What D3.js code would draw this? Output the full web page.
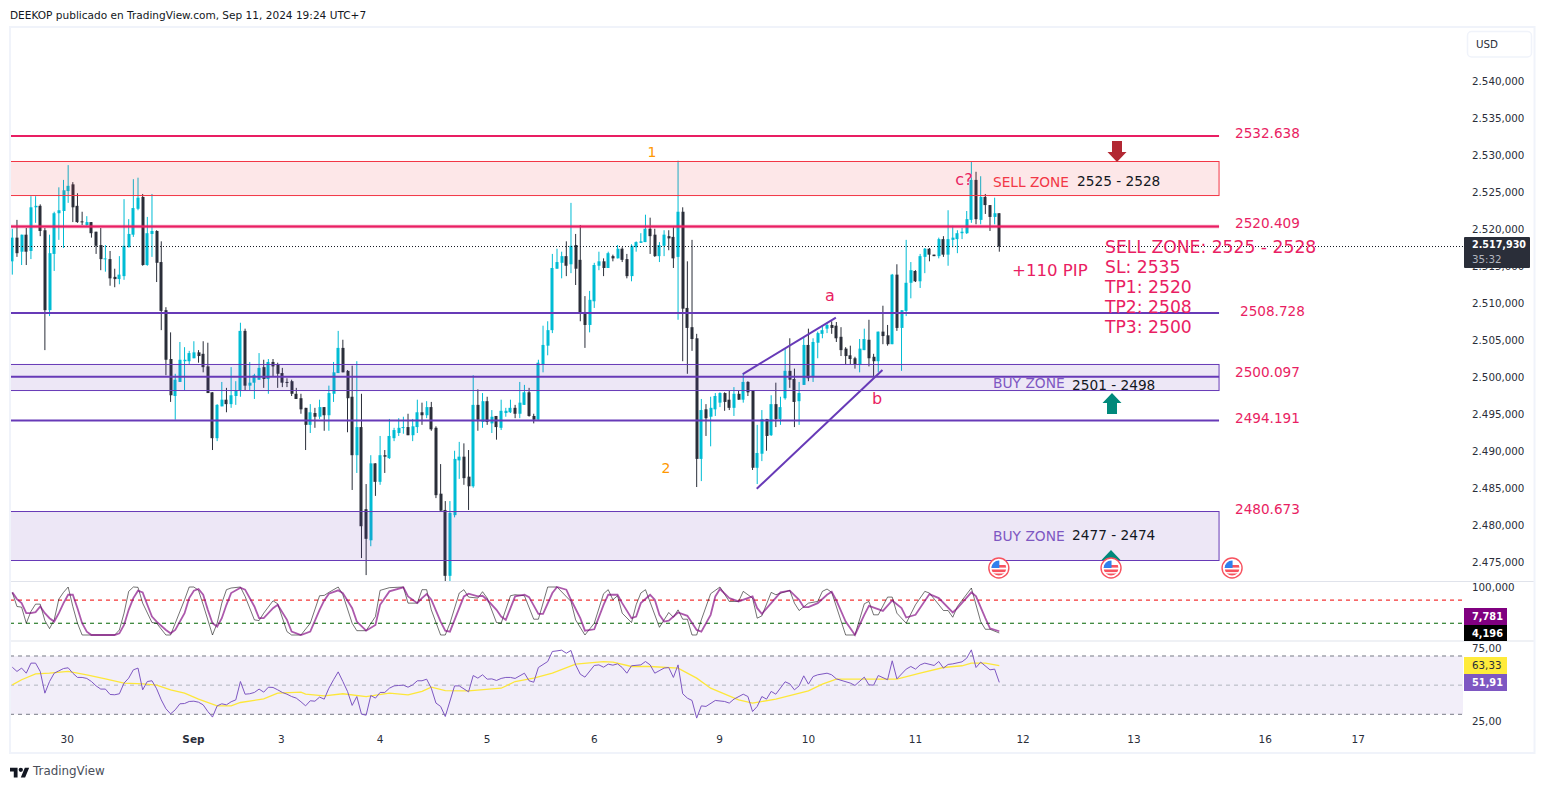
<!DOCTYPE html>
<html><head><meta charset="utf-8">
<script src="https://cdn.jsdelivr.net/npm/d3@7/dist/d3.min.js"></script>
<style>html,body{margin:0;padding:0;background:#fff}svg{display:block;font-family:"DejaVu Sans",sans-serif}</style>
</head><body><svg id="c" width="1545" height="789"></svg>
<script>
const opens=[2515.7,2518.9,2517.0,2519.3,2517.1,2523.0,2523.2,2519.9,2509.1,2516.7,
2522.2,2522.5,2525.2,2526.1,2523.2,2521.1,2520.6,2521.0,2519.7,2517.9,
2516.0,2516.0,2513.6,2513.3,2513.7,2517.6,2519.3,2522.8,2524.4,2515.2,
2519.4,2519.8,2515.6,2509.1,2502.5,2497.5,2499.4,2502.2,2502.2,2502.6,
2503.4,2503.2,2501.5,2498.0,2491.8,2496.1,2497.0,2496.4,2497.5,2498.3,
2506.3,2498.9,2499.3,2499.7,2501.4,2499.8,2502.1,2501.7,2500.6,2499.4,
2499.5,2497.8,2497.2,2495.9,2493.6,2495.2,2494.7,2496.0,2494.9,2497.8,
2500.6,2504.0,2500.9,2497.4,2489.5,2493.3,2482.2,2478.0,2488.4,2485.9,
2489.5,2489.1,2491.8,2492.5,2493.2,2493.3,2492.2,2493.3,2495.3,2494.9,
2496.0,2493.2,2484.3,2482.1,2473.2,2481.4,2488.8,2489.3,2486.6,2485.3,
2496.3,2494.0,2496.8,2493.8,2494.8,2493.2,2495.2,2495.3,2495.9,2495.1,
2496.3,2498.0,2494.8,2494.3,2501.8,2504.3,2506.4,2514.7,2515.5,2516.4,
2515.3,2517.9,2515.9,2508.8,2507.1,2510.3,2515.1,2515.7,2514.8,2516.4,
2516.1,2517.4,2516.0,2513.7,2517.6,2518.2,2518.3,2520.1,2519.3,2516.4,
2517.8,2519.1,2519.0,2516.3,2522.4,2509.4,2506.8,2505.3,2489.0,2495.7,
2494.7,2495.7,2496.6,2497.9,2497.0,2495.9,2497.8,2497.0,2499.4,2498.2,
2487.8,2489.7,2494.4,2492.2,2496.4,2494.4,2497.2,2500.9,2499.8,2496.8,
2499.0,2504.4,2500.1,2504.7,2505.9,2506.6,2507.1,2507.0,2505.5,2503.9,
2503.0,2502.6,2501.8,2503.7,2505.1,2502.8,2502.2,2506.2,2505.7,2504.5,
2513.9,2506.7,2509.0,2512.8,2514.4,2513.0,2516.3,2517.4,2516.6,2516.4,
2518.7,2516.6,2518.6,2518.7,2519.5,2519.5,2521.3,2526.7,2521.3,2524.4,
2523.3,2521.7,2522.2];
const highs=[2520.1,2521.3,2519.3,2520.2,2524.5,2524.5,2523.4,2520.2,2519.3,2522.4,
2525.7,2526.7,2528.7,2526.4,2524.9,2522.4,2521.8,2521.0,2519.7,2520.2,
2517.9,2517.1,2514.7,2516.4,2524.1,2521.4,2526.8,2527.0,2524.8,2521.7,
2524.8,2519.9,2518.4,2509.5,2506.1,2500.5,2504.8,2504.1,2503.6,2504.9,
2503.7,2504.9,2504.7,2498.0,2496.4,2499.4,2498.6,2501.4,2499.5,2507.4,
2506.6,2502.1,2500.5,2503.3,2502.4,2502.5,2502.5,2502.0,2501.3,2499.9,
2499.7,2498.6,2497.8,2495.9,2496.4,2495.9,2497.0,2496.0,2498.9,2502.1,
2506.3,2505.1,2501.0,2501.6,2502.2,2497.8,2485.6,2489.5,2488.4,2492.1,
2490.2,2494.4,2493.2,2494.5,2494.7,2495.1,2494.4,2497.0,2496.6,2496.8,
2496.7,2493.4,2488.3,2483.3,2483.3,2490.1,2491.3,2491.1,2490.2,2500.3,
2498.4,2497.9,2497.4,2495.6,2494.8,2497.0,2495.9,2497.0,2496.3,2499.4,
2499.0,2498.6,2495.1,2502.4,2507.0,2507.6,2516.7,2517.4,2517.0,2518.4,
2523.6,2519.4,2520.6,2511.0,2511.7,2515.5,2517.0,2516.1,2517.0,2516.6,
2517.9,2517.6,2516.7,2518.0,2518.4,2519.5,2522.0,2521.6,2520.1,2518.3,
2519.9,2519.9,2520.3,2529.3,2523.0,2515.7,2518.6,2505.9,2497.1,2496.4,
2497.4,2497.9,2498.0,2498.0,2498.2,2498.7,2498.2,2500.6,2499.5,2498.2,
2493.6,2495.6,2494.4,2497.6,2499.3,2497.4,2503.9,2505.3,2501.2,2499.4,
2505.5,2506.6,2505.3,2506.2,2507.0,2507.4,2507.6,2507.5,2506.8,2504.1,
2504.3,2502.8,2505.2,2506.6,2507.8,2503.2,2506.2,2509.7,2507.1,2514.0,
2515.3,2509.1,2518.6,2515.6,2514.5,2516.7,2517.5,2517.5,2516.6,2518.9,
2519.1,2522.6,2520.5,2519.9,2520.2,2522.5,2529.2,2527.8,2527.2,2524.8,
2523.3,2524.3,2522.2];
const lows=[2513.9,2516.3,2515.2,2515.2,2516.0,2520.9,2519.1,2503.7,2508.3,2514.4,
2518.6,2517.5,2523.6,2521.0,2520.9,2520.6,2520.5,2518.9,2516.7,2514.5,
2514.3,2512.4,2512.2,2512.6,2513.2,2517.6,2519.0,2522.6,2515.1,2515.1,
2516.3,2512.9,2506.4,2500.3,2496.7,2494.3,2499.4,2498.3,2501.8,2502.6,
2502.0,2500.7,2497.9,2490.2,2491.4,2496.1,2495.3,2495.9,2496.3,2497.4,
2498.3,2498.3,2497.1,2499.7,2498.6,2497.8,2500.2,2498.6,2498.7,2498.7,
2497.5,2497.1,2495.1,2490.2,2492.5,2493.2,2494.4,2492.8,2492.8,2496.7,
2500.6,2500.7,2492.6,2484.8,2487.1,2475.6,2473.3,2477.2,2484.0,2485.5,
2487.1,2489.0,2491.4,2492.1,2492.4,2492.2,2491.4,2492.5,2493.6,2494.5,
2492.8,2483.7,2482.0,2472.5,2472.5,2481.1,2486.3,2485.5,2482.1,2485.1,
2492.8,2493.2,2493.6,2492.5,2491.6,2492.9,2494.7,2495.2,2494.5,2494.5,
2496.3,2494.7,2493.8,2494.3,2500.7,2503.0,2506.0,2514.7,2513.4,2513.7,
2514.1,2512.5,2507.6,2504.0,2506.1,2509.4,2514.5,2513.7,2514.8,2515.7,
2516.1,2515.6,2513.4,2513.0,2517.0,2518.2,2518.3,2516.7,2516.3,2515.6,
2516.4,2517.2,2514.8,2507.8,2502.2,2500.5,2503.6,2485.2,2486.0,2492.1,
2490.7,2494.8,2496.0,2495.5,2495.6,2494.8,2497.0,2496.6,2497.5,2487.5,
2485.6,2488.7,2490.1,2492.1,2493.3,2493.6,2497.0,2498.6,2493.3,2493.6,
2499.0,2499.5,2499.4,2502.6,2505.3,2506.0,2505.9,2504.8,2502.9,2501.8,
2501.8,2501.2,2500.7,2503.7,2501.5,2500.1,2500.7,2504.5,2504.3,2504.5,
2506.3,2500.9,2508.3,2510.7,2512.9,2512.1,2514.1,2515.7,2516.4,2516.1,
2516.3,2515.1,2517.6,2516.8,2518.7,2519.4,2520.9,2520.7,2520.7,2522.1,
2519.8,2520.7,2517.0];
const closes=[2518.9,2516.8,2519.3,2517.0,2523.0,2523.2,2519.8,2509.1,2516.8,2522.2,
2522.6,2525.3,2525.9,2523.0,2521.0,2521.0,2521.0,2519.5,2517.8,2516.0,
2516.1,2513.4,2513.3,2513.9,2517.8,2519.4,2522.9,2524.3,2515.2,2519.5,
2519.8,2515.5,2509.0,2502.4,2497.6,2499.7,2502.4,2502.4,2503.3,2503.4,
2502.9,2501.4,2497.9,2491.8,2496.3,2497.0,2496.4,2497.6,2498.2,2506.3,
2498.9,2499.3,2500.3,2501.3,2499.8,2502.1,2501.5,2500.5,2499.3,2499.3,
2497.8,2497.1,2495.7,2493.6,2495.3,2494.7,2496.0,2494.9,2497.9,2500.7,
2504.0,2500.7,2497.2,2489.5,2493.3,2479.9,2478.2,2488.4,2485.9,2489.5,
2489.3,2492.1,2492.9,2493.2,2493.3,2492.2,2493.4,2495.3,2494.9,2496.0,
2493.0,2484.1,2482.0,2473.2,2481.7,2489.0,2489.3,2486.4,2485.3,2496.3,
2494.3,2496.8,2494.0,2494.7,2493.3,2495.5,2495.5,2495.9,2495.1,2496.6,
2498.0,2494.8,2494.3,2502.0,2504.4,2506.4,2514.8,2515.6,2516.4,2515.1,
2517.8,2514.7,2508.7,2507.1,2510.5,2515.2,2515.7,2514.8,2516.8,2516.1,
2517.4,2515.9,2513.7,2517.8,2518.3,2518.4,2520.1,2519.1,2516.4,2517.9,
2519.3,2518.8,2516.1,2522.4,2509.3,2506.7,2505.2,2489.0,2495.6,2494.5,
2495.9,2497.5,2497.9,2496.7,2495.9,2497.8,2497.0,2499.4,2498.0,2487.8,
2489.8,2494.4,2492.1,2496.4,2494.4,2496.0,2500.9,2499.7,2496.7,2497.9,
2504.4,2499.9,2504.8,2506.0,2506.4,2507.1,2506.7,2505.3,2503.7,2502.9,
2502.5,2501.8,2503.9,2505.2,2502.6,2502.2,2506.2,2505.6,2504.5,2513.9,
2506.7,2509.1,2512.8,2514.5,2513.0,2516.4,2517.4,2516.6,2516.4,2518.7,
2516.6,2518.7,2518.9,2519.5,2519.7,2521.4,2526.7,2521.4,2524.4,2523.3,
2521.7,2522.2,2517.7];

const stochK=[[0,88.8],[1,59.4],[2,58],[3,24.5],[4,49],[5,64.3],[6,64.3],[7,30],[8,13.3],[9,31.5],[10,74.8],[11,88.8],[12,100],[13,59.4],[14,24.5],[15,0],[22,0],[23,10.5],[24,45.5],[25,90.9],[26,100],[27,99.3],[28,66.4],[30,25.9],[31,24.5],[33,0],[34,0],[35,24.5],[37,73.4],[38,100],[39,100],[40,93],[41,63],[43,0],[44,24.5],[45,66.4],[46,94.4],[47,97.9],[49,100],[50,80.4],[52,31.5],[53,30],[54,45.5],[56,71.3],[57,65],[59,7],[60,0],[62,0],[64,24.5],[66,81.8],[67,82.5],[68,88.8],[70,100],[71,83.9],[73,24.5],[74,9],[76,9],[78,38.5],[79,93],[81,98.6],[84,100],[85,66.4],[87,66.4],[88,94.4],[89,94.4],[90,52.4],[92,0],[93,0],[94,24.5],[96,87.4],[97,94.4],[98,79],[100,76.9],[101,90.2],[102,76.9],[104,25.9],[105,24.5],[107,81.8],[108,83.9],[110,81.8],[112,32.9],[113,32.9],[115,100],[117,100],[120,69.9],[121,31.5],[123,0],[125,24.5],[127,86],[128,94.4],[129,73.4],[130,81.8],[131,45.5],[133,25.9],[134,63],[135,87.4],[136,94.4],[139,16],[141,46.9],[142,37],[143,52.4],[144,32.9],[145,32.9],[146,0],[147,0],[148,31.5],[150,86],[152,100],[154,69.9],[156,69.9],[157,90.9],[159,76.9],[160,35],[161,39.9],[163,88.8],[164,83.9],[167,93],[168,66.4],[169,51],[171,66.4],[173,69.9],[174,90.9],[175,95.8],[176,88.8],[179,0],[181,0],[183,65],[184,69.9],[185,42],[186,42],[188,79],[189,79],[190,45.5],[192,24.5],[194,63],[196,90.9],[197,87.4],[200,51],[201,51],[202,37],[203,59.4],[206,97.9],[208,28],[209,11.9],[210,11.9],[212,4.196]];
const stochD=[[0,88.8],[1,74.8],[2,66.4],[3,45.5],[4,45.5],[5,47.6],[6,59.4],[7,45.5],[8,35],[9,28],[10,45.5],[11,66.4],[12,83.9],[13,83.9],[14,55.9],[15,24.5],[16,7],[17,0],[22,0],[23,3.5],[24,21],[25,52.4],[26,76.9],[27,92.3],[28,88.8],[29,62.9],[30,38.5],[31,28],[33,10.5],[34,3.5],[35,10.5],[37,45.5],[38,76.9],[39,92.3],[40,95.8],[41,83.9],[42,52.4],[43,24.5],[44,17.5],[45,35],[46,62.9],[47,87.4],[49,98.6],[50,94.4],[52,59.4],[53,35],[54,35],[56,55.9],[57,62.9],[59,31.5],[60,7],[62,0],[64,7],[66,52.4],[67,72],[68,86],[70,93],[71,87.4],[73,55.9],[74,28],[76,9],[78,21],[79,62.9],[81,90.9],[84,99.3],[85,80.4],[87,66.4],[88,76.9],[89,85.3],[90,73.4],[92,28],[93,9],[94,7],[96,55.9],[97,80.4],[98,86],[100,80.4],[101,81.8],[102,73.4],[104,52.4],[105,38.5],[106,31.5],[107,55.9],[108,80.4],[110,83.9],[111,79],[113,44],[114,44],[116,87.4],[117,100],[119,94.4],[120,73.4],[122,35],[123,9],[125,11.9],[127,62.9],[128,83.9],[130,83.9],[131,66.4],[133,35],[134,38.5],[135,66.4],[137,83.9],[138,73.4],[139,42],[140,28],[141,30],[143,46.9],[145,39.9],[147,10.5],[148,7],[150,42],[151,80.4],[152,95.8],[154,76.9],[156,69.9],[159,80.4],[160,55.9],[161,44],[163,66.4],[165,88.8],[167,92.3],[169,73.4],[170,58],[171,58],[173,66.4],[175,83.9],[176,90.2],[177,72],[179,28],[181,0],[183,42],[184,60.8],[187,50.3],[189,72],[191,55.9],[192,36.4],[194,42],[197,85.3],[199,76.9],[202,46.9],[203,55.9],[206,88.8],[207,80.4],[209,35],[210,14],[212,7.781]];
const rsiLine=[[0,62.3],[1,59.4],[2,61.7],[3,58.2],[4,65.1],[5,65.1],[6,59.4],[7,44.5],[8,52.5],[9,58.2],[10,59.8],[11,61.4],[12,61.9],[13,58.2],[14,55.3],[15,55.3],[16,54.6],[17,52.5],[18,49.5],[19,47.3],[20,47.3],[21,43.6],[22,43.4],[23,44.1],[24,51.4],[25,54.8],[26,60.5],[27,61.7],[28,46.8],[29,52.5],[30,53],[31,47.5],[32,39.9],[33,33.8],[34,30.3],[35,33.1],[36,37.2],[37,37.4],[38,38.8],[39,39],[40,38.3],[41,36.5],[42,31.9],[43,28.1],[44,35.8],[45,37.2],[46,36.5],[47,38.6],[48,39.9],[49,52.5],[50,43.8],[51,44.1],[52,45],[53,47.3],[54,45.2],[55,48.6],[56,48.4],[57,46.8],[58,45],[59,43.8],[60,42.2],[61,41.1],[62,38.6],[63,35.8],[64,39.3],[65,39],[66,41.8],[67,40.4],[68,47.9],[69,53.7],[70,59.1],[71,52.5],[72,45.7],[73,36.1],[74,42.2],[75,30.1],[76,29.4],[77,42.9],[78,41.1],[79,45],[80,45],[81,47.9],[82,49.5],[83,49.8],[84,50],[85,48.6],[86,50.2],[87,53],[88,53],[89,54.1],[90,47.9],[91,37.7],[92,35.4],[93,28.5],[95,49.5],[96,49.5],[98,45.4],[99,56.6],[100,54.8],[101,57.1],[102,54.1],[103,54.3],[104,53.2],[105,54.6],[106,55.3],[107,55.3],[108,54.6],[110,58.2],[111,53],[112,52],[113,62.1],[115,66.2],[116,73.1],[117,73.5],[118,74],[119,71.9],[120,73.8],[121,63.9],[122,57.5],[123,55.5],[125,63.5],[126,63.9],[127,62.3],[128,64.4],[129,63.7],[130,64.6],[131,62.1],[132,58.2],[133,63.3],[135,63.9],[136,66.2],[137,63.9],[138,58.2],[140,61.7],[141,62.1],[142,55.3],[143,63.9],[144,44.1],[145,41.1],[146,39.5],[147,27.4],[148,35.8],[149,35.4],[151,39.5],[153,38.8],[154,37.7],[155,40.4],[157,43.8],[158,42.2],[159,31.9],[160,35.4],[161,42.2],[162,40.4],[163,45.7],[164,43.8],[166,52.3],[167,50.9],[168,46.8],[169,49.5],[170,56.4],[171,50.7],[172,55.9],[173,57.1],[175,58.2],[176,57.1],[177,54.3],[180,51.4],[181,49.8],[183,55.5],[184,50.2],[185,50],[186,56.6],[188,53.7],[189,66.7],[190,54.3],[192,61],[193,62.8],[194,61],[195,63.9],[196,65.1],[198,63.5],[199,66.2],[200,61.7],[201,64.2],[202,64.6],[204,66],[205,68.5],[206,74.2],[207,62.1],[208,65.8],[210,60.5],[211,61],[212,51.91]];
const rsiMA=[[0,50.2],[2,53.7],[5,57.8],[8,58.2],[12,59.4],[16,57.1],[20,54.3],[24,51.4],[28,50.9],[31,50],[34,46.8],[37,44.5],[40,40.4],[44,35.8],[47,35.8],[49,38.1],[54,40.6],[57,44.5],[62,45.2],[63,43.8],[67,42.7],[71,44.1],[76,42.2],[81,44.5],[85,43.4],[88,45.7],[90,48.6],[93,46.3],[98,46.1],[105,47.9],[108,52.5],[112,54.8],[116,58.2],[121,64.4],[127,66.2],[129,65.8],[133,62.8],[137,62.8],[143,61.7],[147,54.8],[150,47.9],[156,39.9],[159,37.7],[164,40.4],[171,46.1],[174,50.7],[177,54.1],[185,54.1],[190,54.1],[195,58.2],[200,62.1],[204,63.3],[206,65.1],[209,65.1],[212,63.33]];

const priceTicks=d3.range(2475,2541,5);
const timeTickBars=[11.7,38.8,57.7,78.9,101.9,124.9,151.8,170.9,193.9,217,240.8,269,289];
const timeTickLabels=["30","Sep","3","4","5","6","9","10","11","12","13","16","17"];
const levels=[
 {p:2532.638,l:"2532.638",c:"#e91e63",w:1.8,lx:1235,ly:134},
 {p:2520.409,l:"2520.409",c:"#e91e63",w:2,halo:1,lx:1235,ly:224},
 {p:2508.728,l:"2508.728",c:"#673ab7",w:2,lx:1240,ly:312},
 {p:2500.097,l:"2500.097",c:"#673ab7",w:2,lx:1235,ly:373},
 {p:2494.191,l:"2494.191",c:"#673ab7",w:2,lx:1235,ly:419}];
const zones=[
 {hi:2529.19,lo:2524.59,s:"#f23645",f:"rgba(242,54,69,0.12)"},
 {hi:2501.76,lo:2498.24,s:"#673ab7",f:"rgba(103,58,183,0.12)"},
 {hi:2481.89,lo:2475.27,s:"#673ab7",f:"rgba(103,58,183,0.12)"}];
const trendUp=[[156.9,2500.47],[176.9,2508.08]];
const trendLow=[[159.9,2484.97],[186.9,2501.0]];
const eventBars=[211.9,236,262];
const signalLines=["SELL ZONE: 2525 - 2528","SL: 2535","TP1: 2520","TP2: 2508","TP3: 2500"];

const svg=d3.select("#c");
const L=10,R=1463,ZR=259.2;
const x=d3.scaleLinear().domain([0,212]).range([12.3,999.3]);
const y=d3.scaleLinear().domain([2475,2540]).range([81.5+65*7.4,81.5]);
const ys=d3.scaleLinear().domain([0,100]).range([635,587]);
const yr=d3.scaleLinear().domain([25,75]).range([721.6,648.7]);
svg.append("rect").attr("width",1545).attr("height",789).attr("fill","#fff");

const clip=svg.append("clipPath").attr("id","m").append("rect").attr("x",L).attr("y",28).attr("width",R-L).attr("height",553);
const gc=svg.append("g").attr("clip-path","url(#m)");
const bars=d3.range(closes.length);
const col=i=>closes[i]>=opens[i]?"#00bcd4":"#2a2e39";
gc.selectAll(".w").data(bars).join("line").attr("x1",x).attr("x2",x)
  .attr("y1",i=>y(highs[i])).attr("y2",i=>y(lows[i])).attr("stroke",col).attr("stroke-width",1);
gc.selectAll(".b").data(bars).join("rect").attr("x",i=>Math.round(x(i))-1.5).attr("width",3)
  .attr("y",i=>y(Math.max(opens[i],closes[i])))
  .attr("height",i=>Math.max(1,Math.abs(y(opens[i])-y(closes[i])))).attr("fill",col);

svg.selectAll(".z").data(zones).join("rect").attr("x",L).attr("width",x(ZR)-L)
  .attr("y",d=>y(d.hi)).attr("height",d=>y(d.lo)-y(d.hi)).attr("fill",d=>d.f).attr("stroke",d=>d.s).attr("stroke-width",1);
svg.selectAll(".h").data(levels.filter(d=>d.halo)).join("line").attr("x1",L).attr("x2",x(ZR))
  .attr("y1",d=>y(d.p)).attr("y2",d=>y(d.p)).attr("stroke",d=>d.c).attr("stroke-width",3.5).attr("opacity",.4);
svg.selectAll(".l").data(levels).join("line").attr("x1",L).attr("x2",x(ZR))
  .attr("y1",d=>y(d.p)).attr("y2",d=>y(d.p)).attr("stroke",d=>d.c).attr("stroke-width",d=>d.w);
svg.append("line").attr("x1",L).attr("x2",R).attr("y1",y(closes[closes.length-1])).attr("y2",y(closes[closes.length-1]))
  .attr("stroke","#131722").attr("stroke-width",1).attr("stroke-dasharray","1 2");
const tl=d3.line().x(d=>x(d[0])).y(d=>y(d[1]));
[trendUp,trendLow].forEach(t=>svg.append("path").attr("d",tl(t)).attr("fill","none").attr("stroke","#673ab7").attr("stroke-width",2));

function txt(s,xx,yy,c,fs,extra){const t=svg.append("text").attr("x",xx).attr("y",yy).attr("dy",".36em").attr("fill",c).attr("font-size",fs).text(s);if(extra)extra(t);return t;}
levels.forEach(d=>txt(d.l,d.lx,d.ly-0.5,"#e91e63",13.6));
txt("2480.673",1235,509.5,"#e91e63",13.6);
txt("SELL ZONE",993,182,"#f23645",13.7);
txt("2525 - 2528",1077,181,"#131722",13.7);
txt("BUY ZONE",993,383,"#7e57c2",13.8);
txt("2501 - 2498",1072,385,"#131722",13.7);
txt("BUY ZONE",993,536,"#7e57c2",13.8);
txt("2477 - 2474",1072,535,"#131722",13.7);
signalLines.forEach((s,i)=>txt(s,1105,247+i*20,"#e91e63",17.2));
txt("+110 PIP",1012,270,"#e91e63",16.6);
txt("1",652,152,"#ff9800",14,t=>t.attr("text-anchor","middle"));
txt("2",666,468,"#ff9800",14,t=>t.attr("text-anchor","middle"));
txt("a",830,295,"#e91e63",16,t=>t.attr("text-anchor","middle"));
txt("b",877,398,"#e91e63",16,t=>t.attr("text-anchor","middle"));
txt("c?",964,179,"#e91e63",16,t=>t.attr("text-anchor","middle"));

function arrow(cx,tip,dir,c,headW,headH,shaftW,shaftH){
  const p=[[0,0],[headW/2,headH],[shaftW/2,headH],[shaftW/2,headH+shaftH],[-shaftW/2,headH+shaftH],[-shaftW/2,headH],[-headW/2,headH]];
  svg.append("polygon").attr("points",p.map(q=>[cx+q[0],tip+dir*q[1]].join(",")).join(" ")).attr("fill",c);
}
arrow(1117,162,-1,"#b22833",19,10,10,11);
arrow(1112,393,1,"#00897b",19,10,10,11);
arrow(1111,550,1,"#00897b",19,10,10,11);

eventBars.forEach(b=>{
  const g=svg.append("g").attr("transform",`translate(${x(b)},568)`);
  g.append("circle").attr("r",10).attr("fill","#fff").attr("stroke","#f7525f").attr("stroke-width",1.4);
  const id="f"+Math.round(b);
  g.append("clipPath").attr("id",id).append("circle").attr("r",7.4);
  const f=g.append("g").attr("clip-path",`url(#${id})`);
  f.append("rect").attr("x",-8).attr("y",-8).attr("width",16).attr("height",16).attr("fill","#fff");
  f.append("rect").attr("x",-8).attr("y",1.5).attr("width",16).attr("height",2.6).attr("fill","#f7525f");
  f.append("rect").attr("x",-8).attr("y",-3).attr("width",16).attr("height",2.6).attr("fill","#f7525f");
  f.append("rect").attr("x",-8).attr("y",5.5).attr("width",16).attr("height",3).attr("fill","#f7525f");
  f.append("rect").attr("x",-8).attr("y",-8).attr("width",8.5).attr("height",8).attr("fill","#2f80ed");
});

// Stochastic pane
[[72.7,"#f00000"],[24.5,"#006400"]].forEach(([v,c])=>svg.append("line").attr("x1",L).attr("x2",R).attr("y1",ys(v)).attr("y2",ys(v)).attr("stroke",c).attr("stroke-dasharray","4 4"));
const ls=d3.line().x(d=>x(d[0])).y(d=>ys(d[1]));
svg.append("path").attr("d",ls(stochK)).attr("fill","none").attr("stroke","#000").attr("stroke-width",1).attr("opacity",.55);
svg.append("path").attr("d",ls(stochD)).attr("fill","none").attr("stroke","#800080").attr("stroke-width",1.8).attr("opacity",.65);

// RSI pane
svg.append("rect").attr("x",L).attr("width",R-L).attr("y",yr(70)).attr("height",yr(30)-yr(70)).attr("fill","#7e57c2").attr("opacity",.1);
[[70,"#787b86"],[50,"#b2b5be"],[30,"#787b86"]].forEach(([v,c])=>svg.append("line").attr("x1",L).attr("x2",R).attr("y1",yr(v)).attr("y2",yr(v)).attr("stroke",c).attr("stroke-dasharray","4 4"));
const lr=d3.line().x(d=>x(d[0])).y(d=>yr(d[1]));
svg.append("path").attr("d",lr(rsiMA)).attr("fill","none").attr("stroke","#fde73a").attr("stroke-width",1.3);
svg.append("path").attr("d",lr(rsiLine)).attr("fill","none").attr("stroke","#7e57c2").attr("stroke-width",1);

// Frame
[581.5,641].forEach(v=>svg.append("line").attr("x1",L).attr("x2",1534).attr("y1",v).attr("y2",v).attr("stroke","#e0e3eb").attr("stroke-width",1.2));
svg.append("rect").attr("x",10).attr("y",27).attr("width",1524.5).attr("height",726).attr("fill","none").attr("stroke","#f0f3fa").attr("stroke-width",2);

// Axes
const style=(g,fs,c)=>{g.select(".domain").remove();g.selectAll("line").remove();g.selectAll("text").attr("font-size",fs).attr("fill",c).attr("font-family",'"DejaVu Sans",sans-serif');};
const fmtPrice=v=>"2."+String(v-2000)+",000";
svg.append("g").attr("transform","translate(1464,-0.5)").call(d3.axisRight(y).tickValues(priceTicks).tickSize(0).tickPadding(8).tickFormat(fmtPrice)).call(style,10.3,"#2a2e39");
svg.append("g").attr("transform","translate(1464,0)").call(d3.axisRight(ys).tickValues([100]).tickSize(0).tickPadding(8).tickFormat(()=>"100,000")).call(style,10.3,"#2a2e39");
svg.append("g").attr("transform","translate(1464,0)").call(d3.axisRight(yr).tickValues([25,75]).tickSize(0).tickPadding(8).tickFormat(d=>d+",00")).call(style,10.3,"#2a2e39");
const tx=svg.append("g").attr("transform","translate(0,734)").call(d3.axisBottom(x).tickValues(timeTickBars).tickSize(0).tickPadding(2).tickFormat((d,i)=>timeTickLabels[i])).call(style,10.5,"#2a2e39");
tx.selectAll("text").filter((d,i)=>timeTickLabels[i]==="Sep").attr("font-weight","bold");

function tag(yy,h,c,t,tc,w){svg.append("rect").attr("x",1464).attr("y",yy).attr("width",w||43).attr("height",h).attr("fill",c);
 txt(t,1472,yy+h/2,tc,c==="#ffeb3b"?10.3:9.8,e=>e.attr("font-weight",c==="#ffeb3b"?"normal":"bold"));}
svg.append("rect").attr("x",1464).attr("y",237).attr("width",66).attr("height",31).attr("rx",1).attr("fill","#2a2e39");
txt("2.517,930",1472,245,"#fff",9.6,e=>e.attr("font-weight","bold"));
txt("35:32",1472,259,"#b2b5be",10.3);
tag(608,17,"#800080","7,781","#fff");
tag(625,16,"#000","4,196","#fff");
tag(657,17,"#ffeb3b","63,33","#2a2e39");
tag(674,17,"#7e57c2","51,91","#fff");

svg.append("rect").attr("x",1467.5).attr("y",31.5).attr("width",64).attr("height",25.5).attr("rx",4).attr("fill","#fff").attr("stroke","#f0f3fa").attr("stroke-width",1.5);
txt("USD",1476,44,"#2a2e39",10.3);

txt("DEEKOP publicado en TradingView.com, Sep 11, 2024 19:24 UTC+7",10,15,"#131722",10.55);
svg.append("g").attr("transform","translate(10,765.5) scale(0.54)").call(g=>{
 g.append("path").attr("d","M14 22H7V11H0V4h14v18zM28 22h-8l7.5-18h8L28 22z").attr("fill","#131722");
 g.append("circle").attr("cx",20).attr("cy",8).attr("r",4).attr("fill","#131722");});
txt("TradingView",33,771,"#4a4e59",11.9);
</script></body></html>
